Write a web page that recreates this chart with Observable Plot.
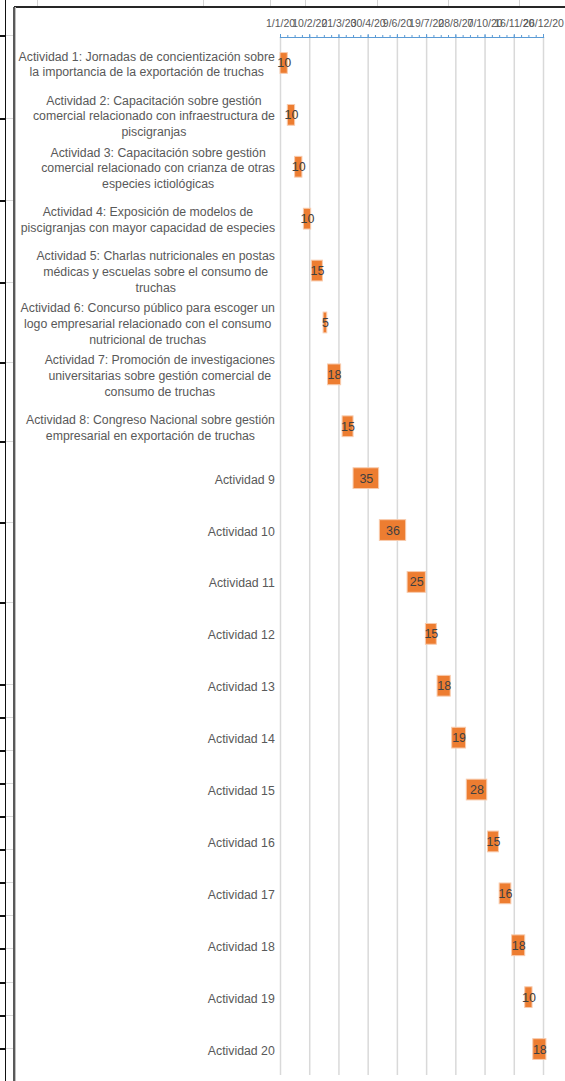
<!DOCTYPE html>
<html><head><meta charset="utf-8">
<script src="https://cdn.jsdelivr.net/npm/d3@7"></script>
<script src="https://cdn.jsdelivr.net/npm/@observablehq/plot@0.6"></script>
<style>
html,body{margin:0;padding:0;background:#fff;}
#wrap{position:relative;width:565px;height:1081px;overflow:hidden;font-family:"Liberation Sans",Arial,sans-serif;}
#chart{position:absolute;left:0;top:0;}
.deco{position:absolute;z-index:2;}
</style></head><body>
<div id="wrap"><div id="chart"></div></div>
<script>
// ---- data ----
const activities = [
  "Actividad 1: Jornadas de concientización sobre\nla importancia de la exportación de truchas",
  "Actividad 2: Capacitación sobre gestión\ncomercial relacionado con infraestructura de\npiscigranjas",
  "Actividad 3: Capacitación sobre gestión\ncomercial relacionado con crianza de otras\nespecies ictiológicas",
  "Actividad 4: Exposición de modelos de\npiscigranjas con mayor capacidad de especies",
  "Actividad 5: Charlas nutricionales en postas\nmédicas y escuelas sobre el consumo de\ntruchas",
  "Actividad 6: Concurso público para escoger un\nlogo empresarial relacionado con el consumo\nnutricional de truchas",
  "Actividad 7: Promoción de investigaciones\nuniversitarias sobre gestión comercial de\nconsumo de truchas",
  "Actividad 8: Congreso Nacional sobre gestión\nempresarial en exportación de truchas",
  "Actividad 9", "Actividad 10", "Actividad 11", "Actividad 12", "Actividad 13",
  "Actividad 14", "Actividad 15", "Actividad 16", "Actividad 17", "Actividad 18",
  "Actividad 19", "Actividad 20"
];
const startDates = [
  "2020-01-01", "2020-01-11", "2020-01-21", "2020-02-02", "2020-02-13",
  "2020-02-29", "2020-03-06", "2020-03-26", "2020-04-10", "2020-05-16",
  "2020-06-23", "2020-07-18", "2020-08-03", "2020-08-23", "2020-09-12",
  "2020-10-11", "2020-10-27", "2020-11-13", "2020-12-01", "2020-12-12"
];
const durations = [10, 10, 10, 10, 15, 5, 18, 15, 35, 36, 25, 15, 18, 19, 28, 15, 16, 18, 10, 18];
const tickDates = ["2020-01-01", "2020-02-10", "2020-03-21", "2020-04-30", "2020-06-09",
                   "2020-07-19", "2020-08-28", "2020-10-07", "2020-11-16", "2020-12-26"];
const tickLabels = ["1/1/20", "10/2/20", "21/3/20", "30/4/20", "9/6/20",
                    "19/7/20", "28/8/20", "7/10/20", "16/11/20", "26/12/20"];

// ---- build table ----
const rows = activities.map((name, i) => {
  const start = new Date(startDates[i] + "T00:00:00Z");
  return {name, start, end: d3.utcDay.offset(start, durations[i]), dur: durations[i]};
});
const majors = tickDates.map(s => new Date(s + "T00:00:00Z"));
const labelOf = new Map(majors.map((d, i) => [+d, tickLabels[i]]));
const domain = [majors[0], majors[majors.length - 1]];
const minors = d3.range(0, 361, 10).map(k => d3.utcDay.offset(domain[0], k));

const plot = Plot.plot({
  width: 565,
  height: 1081,
  marginLeft: 280,
  marginRight: 22,
  marginTop: 37,
  marginBottom: 6,
  style: {fontFamily: "'Liberation Sans', Arial, sans-serif", background: "transparent"},
  x: {type: "utc", domain, axis: null},
  y: {domain: activities, paddingInner: 0.6, paddingOuter: 0.3, round: false, axis: null},
  marks: [
    Plot.gridX(majors, {stroke: "#D9D9D9", strokeOpacity: 1, strokeWidth: 1.5}),
    Plot.axisX(minors, {anchor: "top", tickSize: 3, stroke: "#5B9BD5", tickFormat: () => "", label: null}),
    Plot.axisX(majors, {anchor: "top", tickSize: 4, tickPadding: 7, stroke: "#5B9BD5",
      tickFormat: d => labelOf.get(+d), fill: "#595959", fontSize: 10.5, label: null}),
    Plot.frame({anchor: "top", stroke: "#5B9BD5", strokeWidth: 1.2}),
    Plot.barX(rows, {x1: "start", x2: "end", y: "name", fill: "#ED7D31", stroke: "#F8CBAD", strokeWidth: 1}),
    Plot.text(rows, {x: d => new Date((+d.start + +d.end) / 2), y: "name", text: d => String(d.dur),
      fill: "#404040", fontSize: 12.5}),
    Plot.text(rows, {y: "name", text: "name", frameAnchor: "left", textAnchor: "middle",
      lineHeight: 1.28, fill: "#595959", fontSize: 12.3})
  ]
});
document.getElementById("chart").appendChild(plot);

// right-align each (centered, multi-line) category label block
const sRect = plot.getBoundingClientRect();
plot.querySelectorAll("text").forEach(t => {
  if (!t.textContent.startsWith("Actividad")) return;
  const r = t.getBoundingClientRect();
  const shift = 275 - (r.right - sRect.left);
  t.setAttribute("transform", (t.getAttribute("transform") || "") + ` translate(${shift.toFixed(1)},0)`);
});

// ---- spreadsheet surroundings (decoration) ----
const wrap = document.getElementById("wrap");
function box(l, t, w, h, c) {
  const d = document.createElement("div");
  d.className = "deco";
  Object.assign(d.style, {left: l + "px", top: t + "px", width: w + "px", height: h + "px", background: c});
  wrap.appendChild(d);
}
[37, 203, 270, 305, 377, 448, 519].forEach(x => box(x, 0, 1, 7, "#D4D4D4"));
box(14, 6, 551, 2, "#262626");
box(5, 0, 1, 1081, "#111");
box(13, 7, 1.5, 1074, "#595959");
box(14.5, 7, 1, 1074, "#BFBFBF");
[35, 118, 200, 282, 362, 441, 522, 602, 684, 717, 750, 783, 816, 849, 882, 915, 948, 982, 1015, 1048]
  .forEach(y => { box(0, y, 5, 2, "#111"); box(6, y, 7, 1, "#D9D9D9"); });
</script>
</body></html>
